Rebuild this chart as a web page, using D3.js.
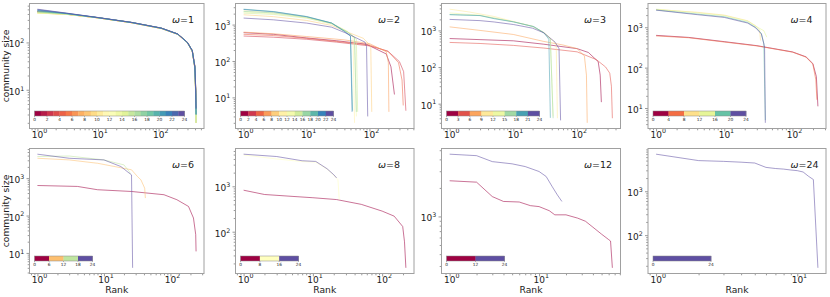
<!DOCTYPE html>
<html><head><meta charset="utf-8">
<script src="https://cdn.jsdelivr.net/npm/d3@7"></script>
<style>
body{margin:0;background:#fff}
svg{display:block}
text{font-family:"DejaVu Sans",sans-serif;fill:#222}
</style>
</head><body>
<svg id="c" width="830" height="297"></svg>
<script>
// ---------------- DATA ----------------
const omegas = [1, 2, 3, 4, 6, 8, 12, 24];
const spectralStops = ['#9e0142','#d53e4f','#f46d43','#fdae61','#fee08b','#ffffbf','#e6f598','#abdda4','#66c2a5','#3288bd','#5e4fa2'];

// colorbar tick labels per panel
const cbTicksW1 = [0,2,4,6,8,10,12,14,16,18,20,22,24];
const cbTicksW2 = [0,2,4,6,8,10,12,14,16,18,20,22,24];
const cbTicksW3 = [0,3,6,9,12,15,18,21,24];
const cbTicksW4 = [0,4,8,12,16,20,24];
const cbTicksW6 = [0,6,12,18,24];
const cbTicksW8 = [0,8,16,24];
const cbTicksW12 = [0,12,24];
const cbTicksW24 = [0,24];

// omega = 1 : 24 series sampled at shared ranks
const ranksW1 = [1, 3, 10, 36, 111, 207, 299, 360, 398, 411, 416];
const sizesW1 = [
  [460,402,333,263,199,149,99,66,29,9,3],
  [455,400,332,262,198,150,100,67,30,8,3],
  [450,398,334,264,200,151,101,68,31,10,4],
  [445,400,331,261,197,148,98,65,28,7,3],
  [440,396,333,263,199,150,100,66,30,9,3],
  [435,397,332,262,198,149,99,67,29,8,2],
  [430,395,330,260,197,149,100,68,31,10,3],
  [425,394,331,262,199,150,101,66,28,7,2],
  [420,393,332,263,200,151,99,65,30,6,2],
  [418,395,333,262,198,150,100,67,29,8,2],
  [420,392,330,261,197,148,98,66,31,9,2],
  [415,394,331,263,199,149,100,67,30,7,2],
  [418,396,332,262,198,150,101,68,29,8,2],
  [422,397,333,264,200,151,99,66,28,6,2],
  [425,398,331,263,199,150,100,67,30,9,2],
  [430,399,332,262,198,149,98,65,31,8,2],
  [438,401,333,263,199,150,101,67,29,7,2],
  [445,403,334,264,200,151,100,68,30,8,3],
  [455,405,333,263,199,150,99,66,28,9,3],
  [465,408,335,265,201,151,100,67,30,8,3],
  [475,410,334,264,200,150,101,68,31,10,3],
  [485,412,336,265,201,151,100,67,29,8,3],
  [495,415,335,264,200,150,99,66,30,9,4],
  [505,418,337,266,202,152,101,68,31,10,4]
];
const seriesW1 = sizesW1.map(s => s.map((v, i) => [ranksW1[i], v]));

// omega = 2 : 12 series of [rank, size]
const seriesW2 = [
  [[1,600],[3,540],[10,430],[30,360],[89,290],[185,156],[220,69],[250,12]],
  [[1,485],[3,450],[10,395],[30,330],[100,260],[195,188],[300,96],[350,51],[380,4.3]],
  [[1,540],[3,500],[10,420],[30,345],[100,275],[200,180],[290,90],[330,30],[345,6]],
  [[1,620],[3,560],[10,470],[40,380],[100,300],[185,180],[200,90],[204,4]],
  [[1,1860],[3,1650],[10,1300],[25,950],[45,620],[80,420],[105,260],[109,4]],
  [[1,2400],[3,2150],[10,1600],[25,1100],[45,650],[55,450],[58,2]],
  [[1,2200],[3,2000],[10,1550],[25,1050],[45,640],[58,420],[62,3]],
  [[1,2060],[3,1900],[10,1500],[25,1050],[45,630],[62,400],[65,4]],
  [[1,2300],[3,2100],[10,1600],[25,1100],[45,620],[58,450],[62,4]],
  [[1,2650],[3,2280],[10,1670],[25,1110],[40,660],[50,485],[54,4.3]],
  [[1,2600],[3,2250],[10,1650],[25,1100],[40,650],[50,480],[53,4]],
  [[1,1510],[3,1350],[10,1100],[25,850],[45,560],[85,330],[90,250],[94,3]]
];

// omega = 3 : 8 series
const seriesW3 = [
  [[1,600],[3,560],[10,520],[30,420],[100,318],[150,250],[214,140],[230,60],[240,11]],
  [[1,470],[3,440],[10,390],[30,330],[100,260],[200,160],[280,100],[325,68],[345,30],[357,4]],
  [[1,1250],[3,1000],[10,775],[30,500],[60,400],[100,318],[130,200],[140,60],[144,3]],
  [[1,3800],[2,3200],[5,2400],[10,1750],[20,1300],[30,880],[42,520],[47,400],[49,4]],
  [[1,3000],[3,2600],[5,2200],[10,1730],[20,1290],[30,870],[38,600],[42,4.5]],
  [[1,2700],[3,2550],[5,2150],[10,1720],[20,1280],[30,870],[38,580],[42,4]],
  [[1,2700],[3,2540],[5,2090],[10,1710],[21,1270],[30,860],[36,575],[38,4.1]],
  [[1,2000],[3,1850],[5,1700],[10,1450],[20,1150],[30,860],[45,480],[52,318],[55,3.5]]
];

// omega = 4 : 6 series
const seriesW4 = [
  [[1,630],[3,560],[10,440],[30,350],[100,245],[158,185],[199,126],[224,60],[236,11]],
  [[1,610],[3,550],[10,430],[30,345],[100,242],[158,182],[199,122],[220,50],[228,16]],
  [[1,2750],[4,2350],[10,2000],[22,1450],[29,1080],[33,850],[34,470]],
  [[1,2800],[4,2280],[10,1950],[22,1420],[29,1060],[38,820],[42,570]],
  [[1,2680],[4,2120],[10,1820],[22,1320],[29,990],[35,700],[38,400],[40,5]],
  [[1,2650],[4,2050],[10,1750],[22,1270],[29,960],[35,680],[39,325],[40,4.3]]
];

// omega = 6 : 4 series
const seriesW6 = [
  [[1,635],[4,600],[8,490],[26,440],[80,360],[125,265],[187,175],[222,86],[240,31],[243,11]],
  [[1,3400],[3,3070],[8,2500],[26,1670],[32,1100],[36,900],[41,540],[42,293]],
  [[1,3780],[3,3900],[10,3070],[20,2260],[24,1500],[25,1300]],
  [[1,4370],[3,3400],[10,3070],[18,2040],[24,1360],[26,1220],[27,4]]
];

// omega = 8 : 3 series
const seriesW8 = [
  [[1,820],[2,660],[5,600],[10,560],[22,510],[50,400],[100,284],[149,220],[198,130],[210,60],[220,16]],
  [[1,4900],[3,4000],[7,3500],[11,3400],[16,2400],[20,1750],[23,1400],[24,510]],
  [[1,5100],[3,4530],[7,3650],[11,3530],[16,2440],[20,1800],[22,1530]]
];

// omega = 12 : 2 series
const seriesW12 = [
  [[1,2380],[2,2300],[3,1620],[4,1440],[6,1420],[8,1300],[10,1270],[13,1150],[15,1040],[20,1040],[27,960],[33,890],[40,770],[50,650],[60,570],[63,550],[66,287]],
  [[1,4540],[2,4380],[3,3790],[5,3590],[7,3360],[10,2980],[12,2640],[14,2070],[16,1690],[18,1440]]
];

// omega = 24 : 1 series
const seriesW24 = [
  [[1,7000],[2,5000],[3,4800],[4,4600],[5,4400],[6,3500],[7,3300],[8,3200],[9,3050],[10,2950],[11,2750],[12,2200],[13,1850],[14,18]]
];

const panelSeries = [seriesW1, seriesW2, seriesW3, seriesW4, seriesW6, seriesW8, seriesW12, seriesW24];
const panelCbTicks = [cbTicksW1, cbTicksW2, cbTicksW3, cbTicksW4, cbTicksW6, cbTicksW8, cbTicksW12, cbTicksW24];

// ---------------- LAYOUT ----------------
const colLeft = [29.5, 235.5, 441.5, 648];
const colWidth = [174.5, 178.5, 179, 178];
const rowTop = [3.5, 148.5];
const rowHeight = 125;
const cbWidth = [150, 93, 93, 93, 58, 58, 58, 58];

const spectral = d3.piecewise(d3.interpolateRgb, spectralStops);
const svg = d3.select('#c');
const defs = svg.append('defs');

function supLabel(sel, d) {
  const e = Math.round(Math.log10(d));
  sel.text(null);
  sel.append('tspan').text('10');
  sel.append('tspan').attr('dy', -4.2).attr('font-size', 6.3).text(e);
}

panelSeries.forEach((series, p) => {
  const col = p % 4, row = Math.floor(p / 4);
  const left = colLeft[col], top = rowTop[row], w = colWidth[col], h = rowHeight;
  const pts = series.flat();
  const L = Math.log10(d3.max(pts, d => d[0]));
  const x = d3.scaleLog().domain([10 ** (-0.05 * L), 10 ** (1.05 * L)]).range([left, left + w]);
  const lo = Math.log10(d3.min(pts, d => d[1])), hi = Math.log10(d3.max(pts, d => d[1])), dd = hi - lo;
  const y = d3.scaleLog().domain([10 ** (lo - 0.05 * dd), 10 ** (hi + 0.05 * dd)]).range([top + h, top]);

  const g = svg.append('g');
  const cid = 'clip' + p;
  defs.append('clipPath').attr('id', cid).append('rect').attr('x', left).attr('y', top).attr('width', w).attr('height', h);

  function logTicks(dom) {
    const a = Math.log10(dom[0]), b = Math.log10(dom[1]);
    const major = [], minor = [];
    for (let k = Math.floor(a); k <= Math.ceil(b); k++) {
      const v = 10 ** k;
      if (k >= a - 1e-9 && k <= b + 1e-9) major.push(v);
      for (let m = 2; m <= 9; m++) { const mv = m * v; const lm = Math.log10(mv); if (lm >= a && lm <= b) minor.push(mv); }
    }
    return {major, minor};
  }
  const xt = logTicks(x.domain()), yt = logTicks(y.domain());

  const gxMinor = g.append('g').attr('transform', `translate(0,${top + h})`)
    .call(d3.axisBottom(x).tickValues(xt.minor).tickSize(1.8).tickFormat(''));
  const gx = g.append('g').attr('transform', `translate(0,${top + h})`)
    .call(d3.axisBottom(x).tickValues(xt.major).tickSize(3).tickPadding(3).tickFormat(d => d));
  const gyMinor = g.append('g').attr('transform', `translate(${left},0)`)
    .call(d3.axisLeft(y).tickValues(yt.minor).tickSize(1.8).tickFormat(''));
  const gy = g.append('g').attr('transform', `translate(${left},0)`)
    .call(d3.axisLeft(y).tickValues(yt.major).tickSize(3).tickPadding(2.3).tickFormat(d => d));
  [gxMinor, gx, gyMinor, gy].forEach(a => {
    a.select('.domain').remove();
    a.selectAll('.tick line').attr('stroke', '#555').attr('stroke-width', 0.6);
  });
  gx.selectAll('.tick text').attr('font-size', 9).attr('fill', '#222').attr('font-family', 'DejaVu Sans')
    .attr('y', 9).attr('dy', 0).attr('dx', 1.6).each(function (d) { supLabel(d3.select(this), d); });
  gy.selectAll('.tick text').attr('font-size', 9).attr('fill', '#222').attr('font-family', 'DejaVu Sans')
    .attr('dy', '0.5em').each(function (d) { supLabel(d3.select(this), d); });

  // lines
  const n = series.length;
  const line = d3.line().x(d => x(d[0])).y(d => y(d[1]));
  const lg = g.append('g').attr('clip-path', `url(#${cid})`);
  series.forEach((s, i) => {
    lg.append('path').attr('d', line(s)).attr('fill', 'none')
      .attr('stroke', spectral(n === 1 ? 1 : i / (n - 1)))
      .attr('stroke-width', 1).attr('stroke-opacity', 0.55);
  });

  // frame
  g.append('rect').attr('x', left).attr('y', top).attr('width', w).attr('height', h)
    .attr('fill', 'none').attr('stroke', '#a0a0a0').attr('stroke-width', 1);

  // omega label
  const t = g.append('text').attr('x', left + 142.5).attr('y', top + 19.5).attr('font-size', 9.5);
  t.append('tspan').attr('font-style', 'italic').text('ω');
  t.append('tspan').text('=' + omegas[p]);

  // colorbar
  const ticks = panelCbTicks[p];
  const nb = n;
  const cbx = d3.scaleLinear().domain([0, 24]).range([left + 5, left + 5 + cbWidth[p]]);
  const cbTop = top + 107.5, cbH = 5;
  const cg = g.append('g');
  d3.range(nb).forEach(i => {
    const a = i * 24 / nb, b = (i + 1) * 24 / nb;
    cg.append('rect').attr('x', cbx(a)).attr('y', cbTop).attr('width', cbx(b) - cbx(a) + 0.3).attr('height', cbH)
      .attr('fill', spectral(nb === 1 ? 1 : i / (nb - 1)));
  });
  cg.append('rect').attr('x', cbx(0)).attr('y', cbTop).attr('width', cbx(24) - cbx(0)).attr('height', cbH)
    .attr('fill', 'none').attr('stroke', '#888').attr('stroke-width', 0.5);
  ticks.forEach(v => {
    cg.append('line').attr('x1', cbx(v)).attr('x2', cbx(v)).attr('y1', cbTop + cbH).attr('y2', cbTop + cbH + 1)
      .attr('stroke', '#555').attr('stroke-width', 0.4);
    cg.append('text').attr('x', cbx(v)).attr('y', cbTop + cbH + 5.3).attr('text-anchor', 'middle')
      .attr('font-size', 4.3).text(v);
  });

  // axis titles
  if (col === 0) {
    svg.append('text').attr('transform', `translate(8.5,${top + h / 2}) rotate(-90)`)
      .attr('text-anchor', 'middle').attr('font-size', 9.2).text('community size');
  }
  if (row === 1) {
    svg.append('text').attr('x', left + w / 2).attr('y', 293).attr('text-anchor', 'middle')
      .attr('font-size', 9.2).text('Rank');
  }
});
</script>
</body></html>
